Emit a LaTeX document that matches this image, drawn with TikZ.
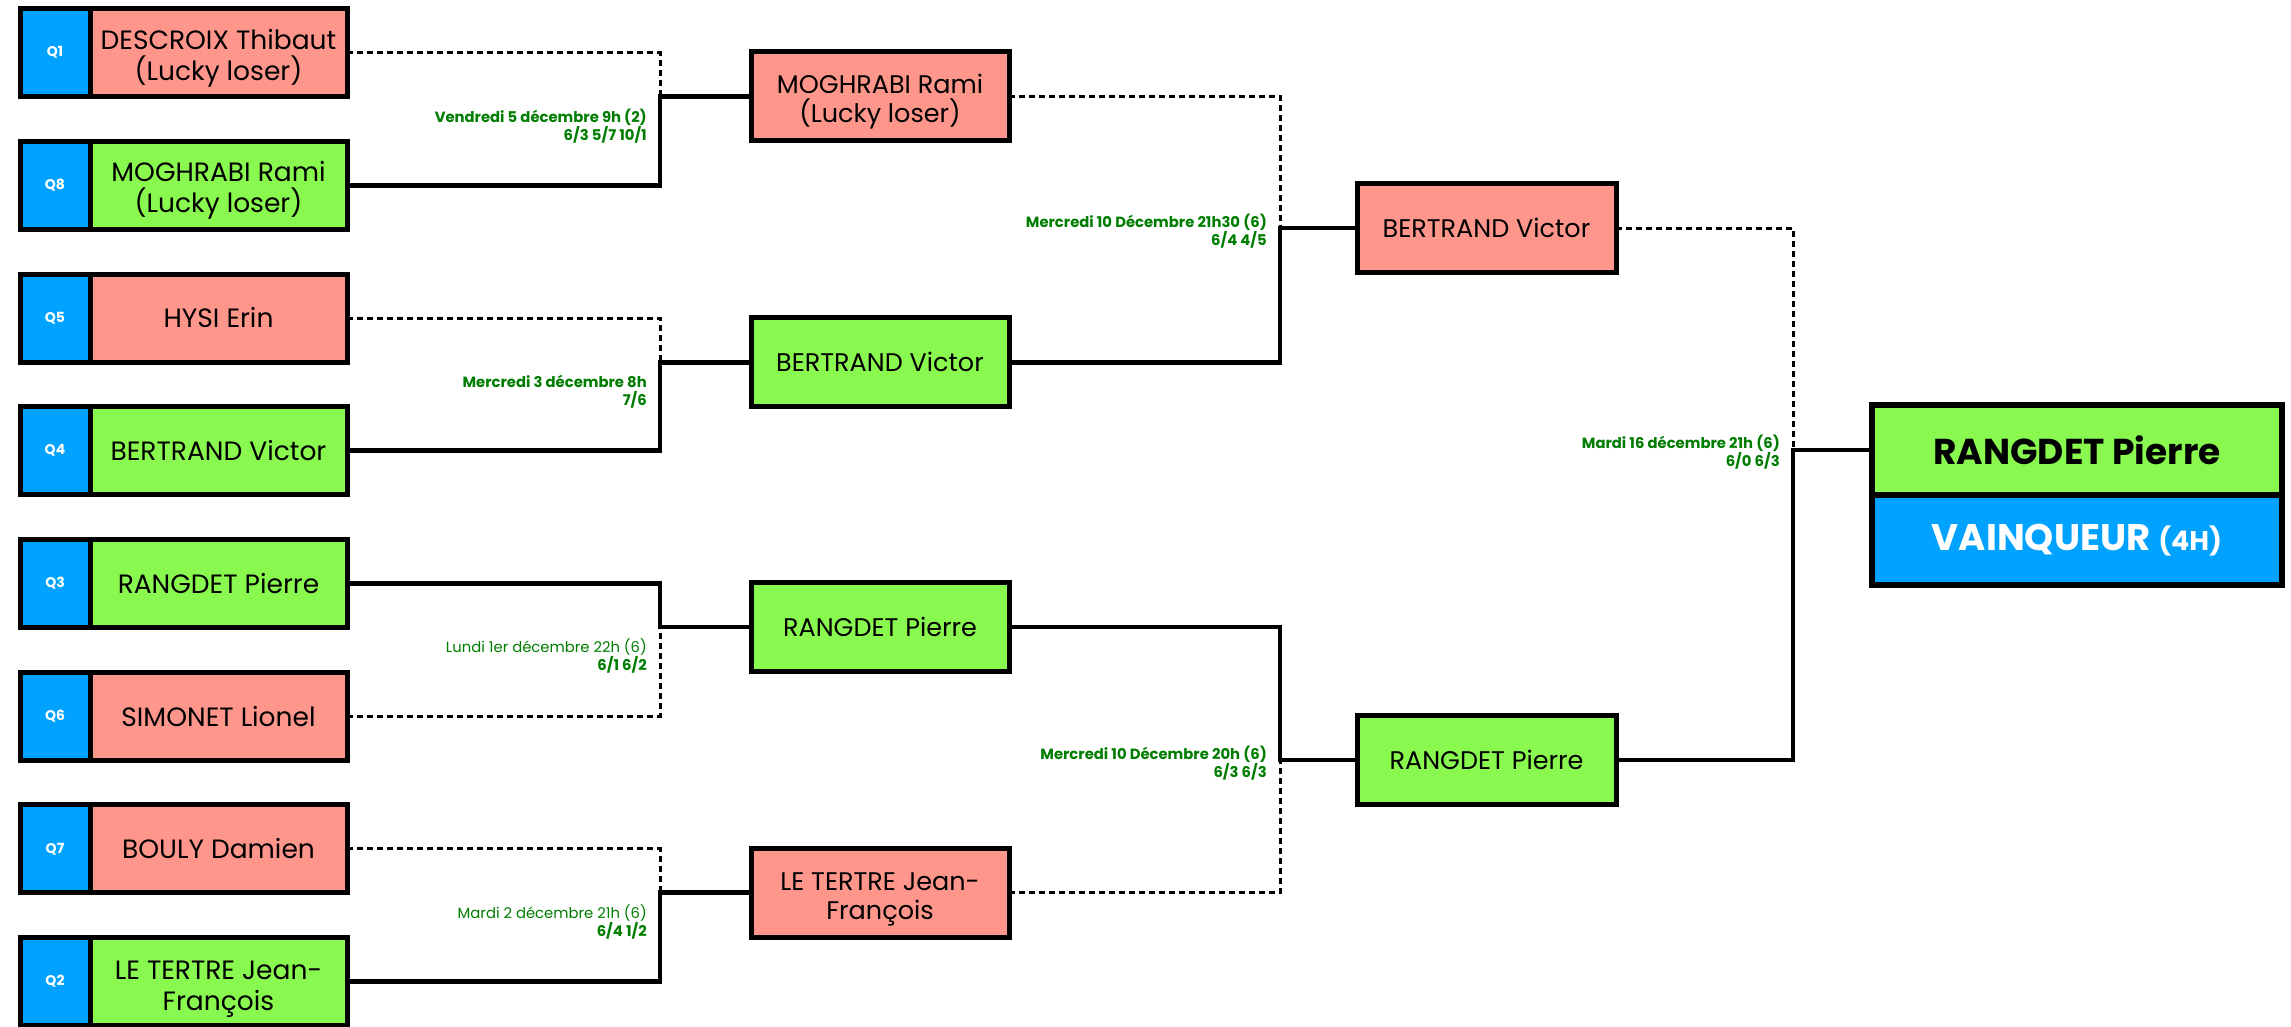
\documentclass[tikz,border=0pt]{standalone}
\usepackage{fontspec}
\setmainfont{Poppins}
\definecolor{qblue}{RGB}{0,162,255}
\definecolor{losered}{RGB}{255,150,140}
\definecolor{wingreen}{RGB}{137,249,79}
\definecolor{lbl}{RGB}{0,125,0}
\newcommand\topstrut[1]{\rule{0pt}{#1}}
\newcommand\botstrut[1]{\rule[-#1]{0pt}{#1}}
\tikzset{
  qbox/.style={draw, line width=5pt, fill=qblue, minimum width=70pt, minimum height=88pt,
    inner sep=0pt, outer sep=0pt, text=white, font=\bfseries\fontsize{14}{16}\selectfont},
  pbox/.style={draw, line width=5pt, minimum width=257pt, minimum height=88pt,
    inner sep=0pt, outer sep=0pt, align=center, font=\fontsize{26.5}{31}\selectfont},
  pboxb/.style={pbox, minimum width=258pt, minimum height=89pt, font=\fontsize{25.5}{29}\selectfont},
  winbox/.style={fill=wingreen},
  losebox/.style={fill=losered},
  wline/.style={line width=4.5pt},
  lline/.style={line width=3pt, dash pattern=on 6pt off 4pt},
  lab/.style={anchor=east, align=right, text=lbl, inner sep=0pt,
    font=\bfseries\fontsize{14.8}{18}\selectfont},
}
\begin{document}
\begin{tikzpicture}[x=1pt,y=-1pt]
\useasboundingbox (0,0) rectangle (2291,1026);
% first round
\node[qbox] (q1) at (55,52.6) {Q1};
\node[pbox,losebox] (p1) at (218.5,52.6) {\topstrut{31pt}DESCROIX Thibaut\\(Lucky loser)\botstrut{7pt}};
\node[qbox] (q8) at (55,185.3) {Q8};
\node[pbox,winbox] (p8) at (218.5,185.3) {\topstrut{31pt}MOGHRABI Rami\\(Lucky loser)\botstrut{7pt}};
\node[qbox] (q5) at (55,318) {Q5};
\node[pbox,losebox] (p5) at (218.5,318) {HYSI Erin};
\node[qbox] (q4) at (55,450.7) {Q4};
\node[pbox,winbox] (p4) at (218.5,450.7) {BERTRAND Victor};
\node[qbox] (q3) at (55,583.4) {Q3};
\node[pbox,winbox] (p3) at (218.5,583.4) {RANGDET Pierre};
\node[qbox] (q6) at (55,716.1) {Q6};
\node[pbox,losebox] (p6) at (218.5,716.1) {SIMONET Lionel};
\node[qbox] (q7) at (55,848.8) {Q7};
\node[pbox,losebox] (p7) at (218.5,848.8) {BOULY Damien};
\node[qbox] (q2) at (55,981.5) {Q2};
\node[pbox,winbox] (p2) at (218.5,981.5) {\topstrut{33pt}LE TERTRE Jean-\\François\botstrut{7pt}};
% second round
\node[pboxb,losebox] (m1) at (880,96.4) {\topstrut{30pt}MOGHRABI Rami\\(Lucky loser)\botstrut{6pt}};
\node[pboxb,winbox] (m2) at (880,362.3) {BERTRAND Victor};
\node[pboxb,winbox] (m3) at (880,626.8) {RANGDET Pierre};
\node[pboxb,losebox] (m4) at (880,892.7) {\topstrut{31pt}LE TERTRE Jean-\\François\botstrut{6pt}};
% third round
\node[pboxb,losebox,minimum width=259pt] (s1) at (1486.5,228) {BERTRAND Victor};
\node[pboxb,winbox,minimum width=259pt] (s2) at (1486.5,760) {RANGDET Pierre};
% final
\node[draw, line width=6pt, fill=wingreen, minimum width=410pt, minimum height=90pt, inner sep=0pt, outer sep=0pt,
  font=\bfseries\fontsize{36}{40}\selectfont] (f1) at (2077,450) {RANGDET Pierre};
\node[draw, line width=6pt, fill=qblue, minimum width=410pt, minimum height=90pt, inner sep=0pt, outer sep=0pt,
  text=white, font=\bfseries\fontsize{37}{40}\selectfont] (f2) at (2077,540) {VAINQUEUR {\fontsize{27}{30}\selectfont (4H)}};
% junctions
\coordinate (j1) at (660,96.4);
\coordinate (j2) at (660,362.3);
\coordinate (j3) at (660,626.8);
\coordinate (j4) at (660,892.7);
\coordinate (k1) at (1280,228);
\coordinate (k2) at (1280,760);
\coordinate (l1) at (1793,450);
% connectors
\draw[lline] (p1.east) -| (j1);
\draw[wline] (p8.east) -| (j1) -- (m1.west);
\draw[lline] (p5.east) -| (j2);
\draw[wline] (p4.east) -| (j2) -- (m2.west);
\draw[wline] (p3.east) -| (j3) -- (m3.west);
\draw[lline] (p6.east) -| (j3);
\draw[lline] (p7.east) -| (j4);
\draw[wline] (p2.east) -| (j4) -- (m4.west);
\draw[lline] (m1.east) -| (k1);
\draw[wline] (m2.east) -| (k1) -- (s1.west);
\draw[wline] (m3.east) -| (k2) -- (s2.west);
\draw[lline] (m4.east) -| (k2);
\draw[lline] (s1.east) -| (l1);
\draw[wline] (s2.east) -| (l1) -- (f1.west);
% labels
\node[lab] (t1) at (647,125.9) {Vendredi 5 décembre 9h (2)\\6/3 5/7 10/1};
\node[lab] (t2) at (647,391.8) {Mercredi 3 décembre 8h\\7/6};
\node[lab] (t3) at (647,656.3) {{\mdseries Lundi 1er décembre 22h (6)}\\6/1 6/2};
\node[lab] (t4) at (647,922.2) {{\mdseries Mardi 2 décembre 21h (6)}\\6/4 1/2};
\node[lab] (t5) at (1267,231) {Mercredi 10 Décembre 21h30 (6)\\6/4 4/5};
\node[lab] (t6) at (1267,763) {Mercredi 10 Décembre 20h (6)\\6/3 6/3};
\node[lab] (t7) at (1780,452.5) {Mardi 16 décembre 21h (6)\\6/0 6/3};
\end{tikzpicture}
\end{document}
